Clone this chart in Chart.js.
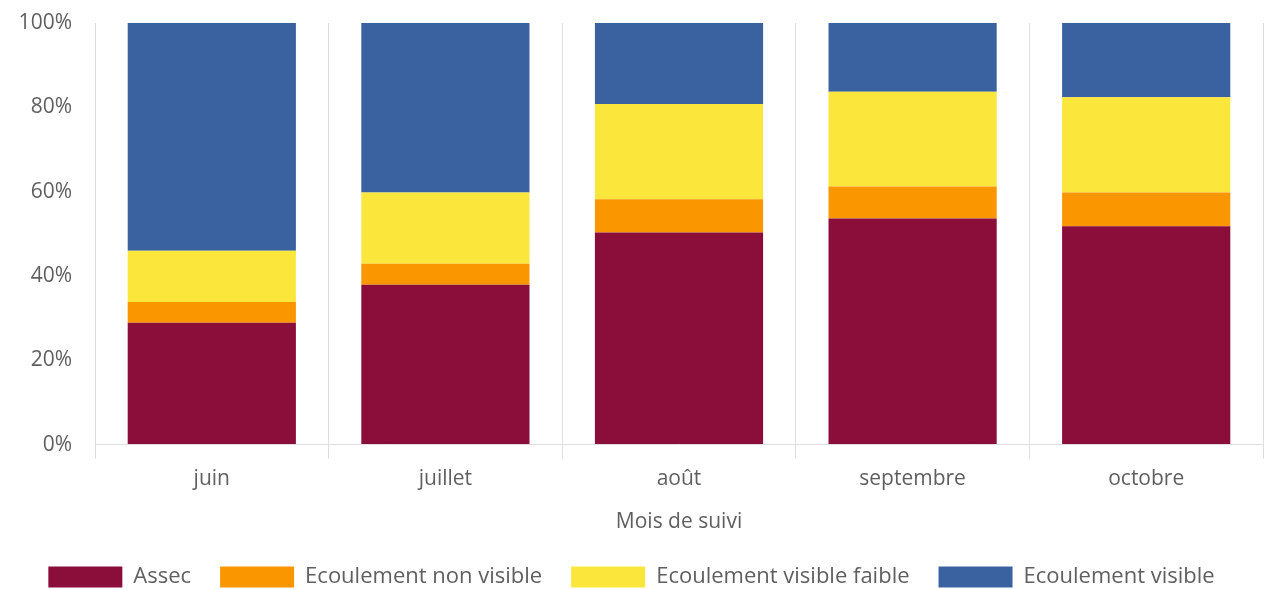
<!DOCTYPE html>
<html>
<head>
<meta charset="utf-8">
<script src="https://cdn.jsdelivr.net/npm/chart.js@4.4.0/dist/chart.umd.min.js"></script>
<style>
  html, body { margin: 0; padding: 0; background: #fff; }
  #wrap { width: 1264px; height: 589px; }
</style>
</head>
<body>
<div id="wrap"><canvas id="suiviChart" width="1264" height="589"></canvas></div>
<script>
// months of the survey
const months = ["juin", "juillet", "août", "septembre", "octobre"];
// share of observations per state (%)
const assec = [28.9, 37.9, 50.3, 53.6, 51.8];
const nonVisible = [4.9, 5.0, 7.9, 7.6, 8.0];
const visibleFaible = [12.2, 16.9, 22.6, 22.5, 22.6];
const visible = [54.0, 40.2, 19.2, 16.3, 17.6];
const yTicks = [0, 20, 40, 60, 80, 100];

const FONT = "'Open Sans', sans-serif";
const GREY = "#5f5f5f";

function makeSet(label, data, color) {
  return {
    label,
    data,
    backgroundColor: color,
    borderColor: color,
    borderWidth: 0,
    barPercentage: 0.72,
    categoryPercentage: 1
  };
}

const ctx = document.getElementById("suiviChart").getContext("2d");
new Chart(ctx, {
  type: "bar",
  data: {
    labels: months,
    datasets: [
      makeSet("Assec", assec, "#8B0D3A"),
      makeSet("Ecoulement non visible", nonVisible, "#FA9600"),
      makeSet("Ecoulement visible faible", visibleFaible, "#FBE73C"),
      makeSet("Ecoulement visible", visible, "#3A62A0")
    ]
  },
  options: {
    responsive: false,
    devicePixelRatio: 1,
    animation: false,
    layout: { padding: { top: 23, right: 1, left: 0, bottom: -9 } },
    plugins: {
      tooltip: { enabled: false },
      legend: {
        position: "bottom",
        labels: {
          boxWidth: 74,
          boxHeight: 21,
          padding: 29,
          color: GREY,
          font: { family: FONT, size: 22 }
        }
      }
    },
    scales: {
      x: {
        stacked: true,
        grid: { offset: true, color: "#dedede", tickLength: 14, tickColor: "#dedede" },
        border: { color: "#dedede" },
        ticks: { color: GREY, padding: 8, font: { family: FONT, size: 21 } },
        title: {
          display: true,
          text: "Mois de suivi",
          color: GREY,
          padding: { top: 10, bottom: 2 },
          font: { family: FONT, size: 21 }
        }
      },
      y: {
        stacked: true,
        min: 0,
        max: 100,
        afterFit: scale => { scale.width = 95; },
        afterBuildTicks: scale => { scale.ticks = yTicks.map(v => ({ value: v })); },
        // invisible tick marks give the gap between labels and axis
        grid: { drawOnChartArea: false, tickLength: 23, tickColor: "rgba(0,0,0,0)" },
        border: { display: false },
        ticks: {
          color: GREY,
          padding: 0,
          font: { family: FONT, size: 21 },
          callback: v => v + "%"
        }
      }
    }
  }
});
</script>
</body>
</html>
